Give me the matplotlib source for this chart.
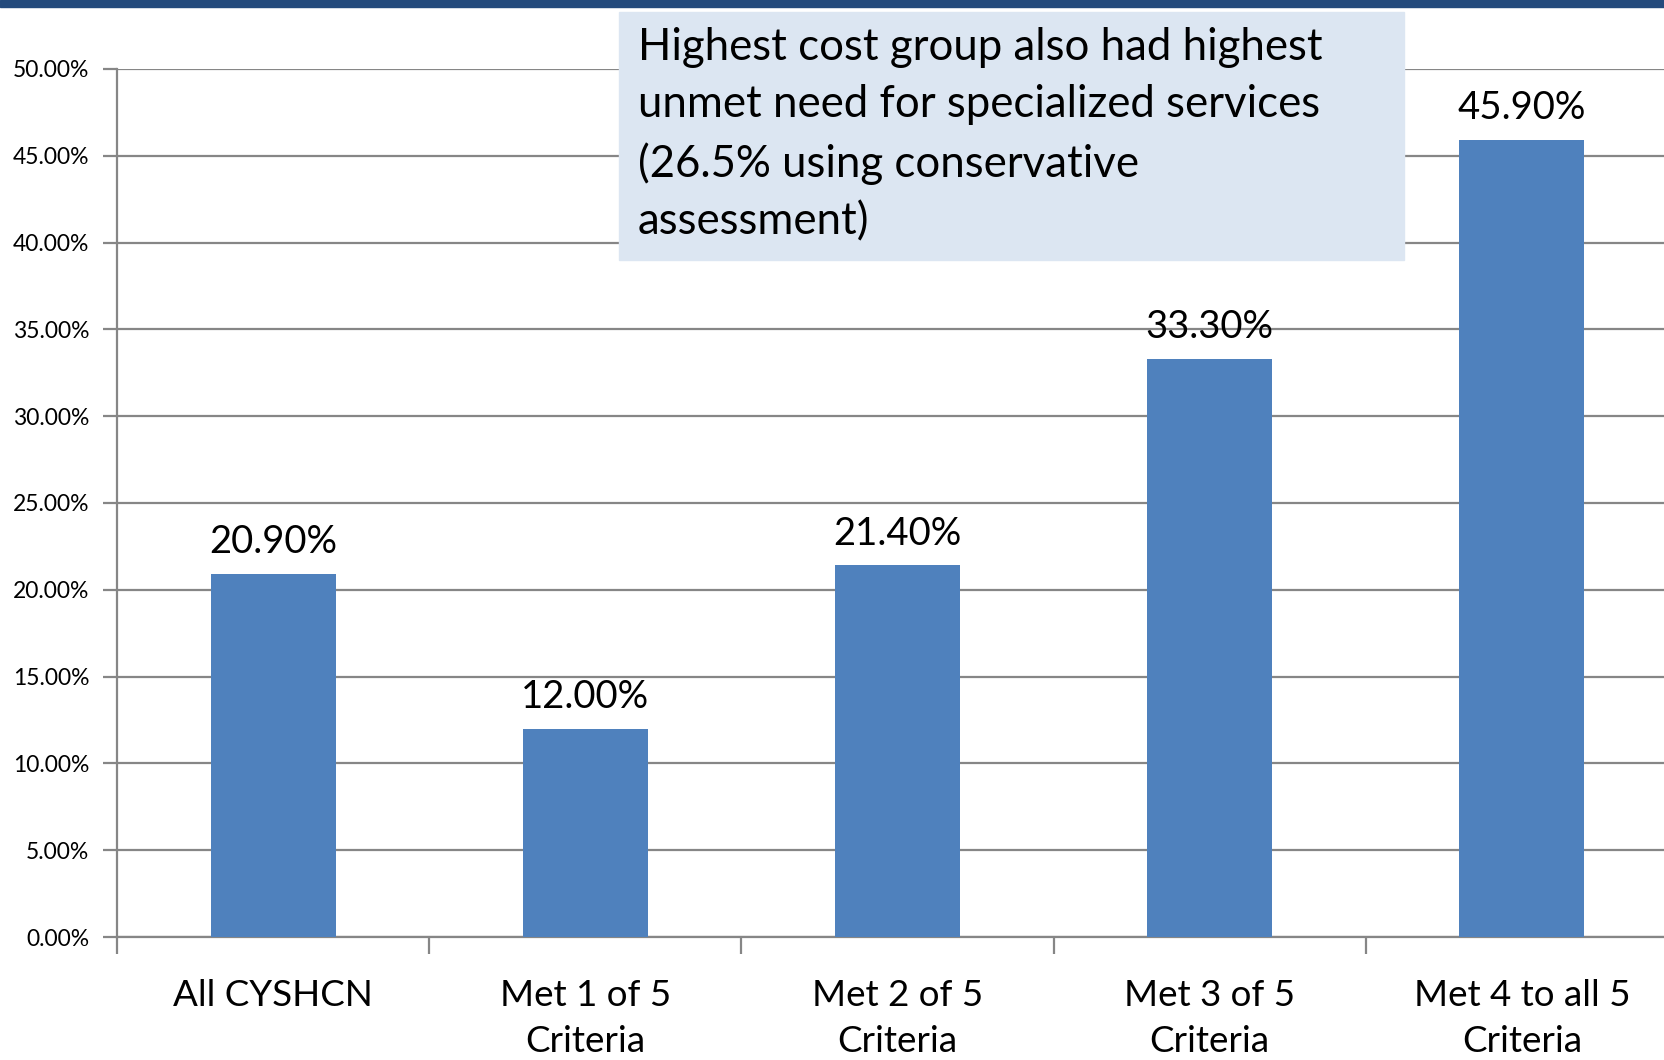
import matplotlib.pyplot as plt
import matplotlib.ticker as mticker
import numpy as np

plt.rcParams["font.family"] = ["Lato", "DejaVu Sans"]

categories = ["All CYSHCN", "Met 1 of 5\nCriteria", "Met 2 of 5\nCriteria",
              "Met 3 of 5\nCriteria", "Met 4 to all 5\nCriteria"]
values = [0.209, 0.120, 0.214, 0.333, 0.459]
value_labels = ["20.90%", "12.00%", "21.40%", "33.30%", "45.90%"]
note = ("Highest cost group also had highest\n"
        "unmet need for specialized services\n"
        "(26.5% using conservative\n"
        "assessment)")

fig = plt.figure(figsize=(16.65, 10.6), dpi=100)
ax = fig.add_axes([0.0703, 0.116, 0.9375, 0.819])

x = np.arange(len(categories))
ax.bar(x, values, width=0.4, color="#4F81BD", zorder=3)

for xi, v, lab in zip(x, values, value_labels):
    ax.text(xi, v + 0.008, lab, ha="center", va="bottom", fontsize=27.5, color="black")

ax.set_xlim(-0.5, len(categories) - 0.5)
ax.set_ylim(0, 0.5)
ax.yaxis.set_major_locator(mticker.MultipleLocator(0.05))
ax.yaxis.set_major_formatter(mticker.FuncFormatter(lambda v, p: f"{v*100:.2f}%"))
ax.grid(axis="y", color="#868686", linewidth=1.6, zorder=0)

# category labels drawn as text so the line spacing holds
ax.set_xticks(x)
ax.set_xticklabels([])
for xi, cat in zip(x, categories):
    ax.annotate(cat, xy=(xi, 0), xycoords=("data", "axes fraction"),
                xytext=(0, -30), textcoords="offset points",
                ha="center", va="top", fontsize=26.5, linespacing=1.5)
ax.set_xticks(np.arange(len(categories) + 1) - 0.5, minor=True)
ax.tick_params(axis="x", which="major", length=0)
ax.tick_params(axis="x", which="minor", length=12, width=1.6, color="#868686")
ax.tick_params(axis="y", length=10, width=1.6, color="#868686", labelsize=16.5, pad=10)

for s in ["top", "right"]:
    ax.spines[s].set_visible(False)
for s in ["left", "bottom"]:
    ax.spines[s].set_color("#868686")
    ax.spines[s].set_linewidth(1.6)

# dark band across the top
fig.patches.append(plt.Rectangle((0, 0.993), 1, 0.007, transform=fig.transFigure,
                                 color="#234A7C", zorder=5))

# annotation box
fig.patches.append(plt.Rectangle((0.372, 0.755), 0.471, 0.234, transform=fig.transFigure,
                                 color="#DCE6F2", zorder=5))
fig.text(0.383, 0.975, note, ha="left", va="top", fontsize=31.5, linespacing=1.5,
         color="black", zorder=6)

fig.savefig("out.png", dpi=100)
